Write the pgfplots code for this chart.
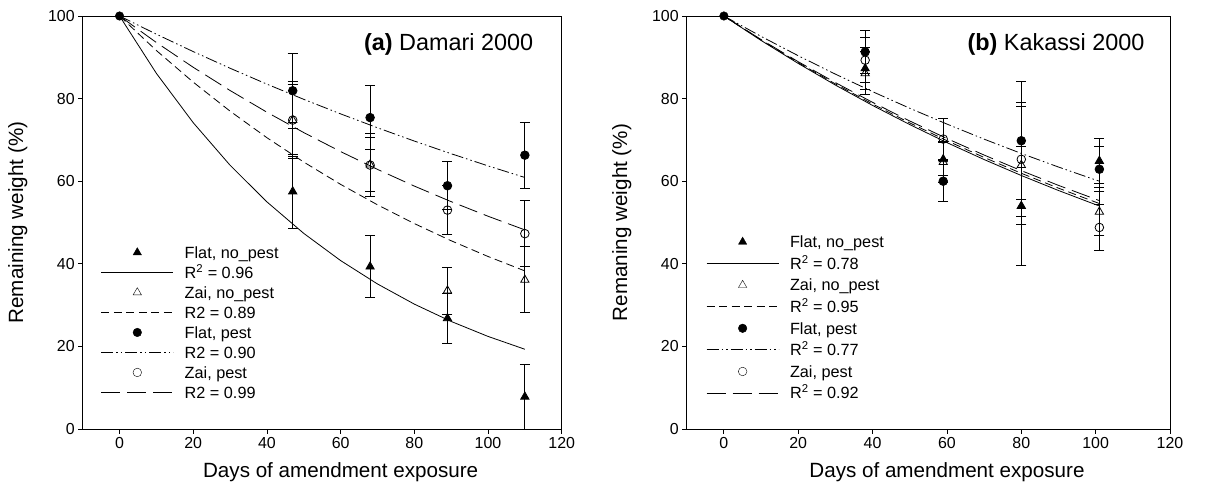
\documentclass[border=0pt]{standalone}
\usepackage{fontspec}
\setmainfont{Liberation Sans}
\usepackage{pgfplots}
\pgfplotsset{compat=1.18}

\pgfplotsset{
  panel/.style={
    scale only axis,
    height=413bp,
    xmin=-10, xmax=120, ymin=0, ymax=100,
    xtick={0,20,...,120}, ytick={0,20,...,100},
    tick align=outside, major tick length=4.5bp,
    xtick pos=bottom, ytick pos=left,
    tick style={black, line width=0.8bp},
    axis line style={black, line width=0.9bp},
    /pgf/number format/assume math mode=true,
    ticklabel style={font=\fontsize{16}{18}\selectfont},
    every axis x label/.style={at={(axis description cs:0.5385,0)}, yshift=-43bp,
      anchor=center, font=\fontsize{20.7}{24}\selectfont},
    every axis y label/.style={at={(axis description cs:0,0.5)}, xshift=-65bp,
      rotate=90, anchor=center, font=\fontsize{20.7}{24}\selectfont},
    legend image code/.code={
      \draw[mark repeat=2, mark phase=2, #1]
        plot coordinates {(0bp,0bp) (36bp,0bp) (72bp,0bp)};},
    legend style={anchor=north west, draw=none, fill=none, inner sep=0pt,
      column sep=11bp, font=\fontsize{16.3}{19}\selectfont,
      nodes={inner sep=0pt, text height=14.5bp, text depth=2.9bp}},
    legend cell align=left,
    fitline/.style={black, line width=0.8bp, no marks},
    shortdash/.style={dash pattern=on 8bp off 4.5bp},
    dashdotdot/.style={dash pattern=on 12bp off 3bp on 1.5bp off 3bp on 1.5bp off 3bp},
    longdash/.style={dash pattern=on 19bp off 7bp},
    pts/.style={black, only marks, mark options={solid, line width=0.8bp},
      error bars/y dir=both, error bars/y explicit,
      error bars/error mark=-,
      error bars/error bar style={solid, line width=1bp},
      error bars/error mark options={solid, rotate=90, mark size=5bp, line width=1bp}},
  }
}

\begin{document}
\begin{tikzpicture}
\useasboundingbox (0,0) rectangle (1211bp,490bp);

% ---------- (a) Damari 2000 ----------
\begin{axis}[
  panel,
  at={(82.7bp,61bp)}, anchor=south west,
  width=479bp,
  xlabel={Days of amendment exposure},
  ylabel={Remaining weight (\%)},
  legend style={at={(0.0376,0.449)}, row sep=2.6bp},
]
\addlegendimage{only marks, mark=triangle*, mark size=4.8bp}
\addlegendentry{Flat, no\_pest}
\addlegendimage{fitline}
\addlegendentry{R\textsuperscript{2} = 0.96}
\addlegendimage{only marks, mark=triangle, mark size=4.8bp}
\addlegendentry{Zai, no\_pest}
\addlegendimage{fitline, shortdash}
\addlegendentry{R2 = 0.89}
\addlegendimage{only marks, mark=*, mark size=4.3bp}
\addlegendentry{Flat, pest}
\addlegendimage{fitline, dashdotdot}
\addlegendentry{R2 = 0.90}
\addlegendimage{only marks, mark=o, mark size=4.3bp}
\addlegendentry{Zai, pest}
\addlegendimage{fitline, longdash}
\addlegendentry{R2 = 0.99}

% fitted curves
\addplot[fitline, forget plot] coordinates {
  (0,100) (10,86.11) (20,74.16) (30,63.86) (40,54.99) (50,47.36) (60,40.78)
  (70,35.12) (80,30.24) (90,26.04) (100,22.42) (110,19.31)};
\addplot[fitline, shortdash, forget plot] coordinates {
  (0,100) (10,91.64) (20,83.98) (30,76.96) (40,70.53) (50,64.63) (60,59.23)
  (70,54.28) (80,49.74) (90,45.58) (100,41.77) (110,38.28)};
\addplot[fitline, dashdotdot, forget plot] coordinates {
  (0,100) (10,95.59) (20,91.38) (30,87.35) (40,83.50) (50,79.82) (60,76.30)
  (70,72.94) (80,69.72) (90,66.65) (100,63.71) (110,60.90)};
\addplot[fitline, longdash, forget plot] coordinates {
  (0,100) (10,93.58) (20,87.58) (30,81.96) (40,76.70) (50,71.77) (60,67.17)
  (70,62.86) (80,58.82) (90,55.05) (100,51.52) (110,48.21)};

% measured points
\addplot[pts, mark=triangle*, mark size=4.8bp, forget plot] coordinates {
  (47,57.5) +- (0,9.0) (68,39.3) +- (0,7.5) (89,26.8) +- (0,6.1) (110,7.8) +- (0,7.8)};
\addplot[pts, mark=triangle, mark size=4.8bp, forget plot] coordinates {
  (47,74.8) +- (0,8.7) (68,64.0) +- (0,6.5) (89,33.5) +- (0,5.7) (110,36.1) +- (0,8.0)};
\addplot[pts, mark=o, mark size=4.3bp, forget plot] coordinates {
  (47,74.8) +- (0,9.3) (68,63.9) +- (0,7.6) (89,53.0) +- (0,6.0) (110,47.3) +- (0,8.0)};
\addplot[pts, mark=*, mark size=4.3bp, forget plot] coordinates {
  (47,81.9) +- (0,9.1) (68,75.4) +- (0,7.7) (89,58.9) +- (0,5.8) (110,66.3) +- (0,8.0)};
\addplot[black, only marks, mark=*, mark size=4.3bp, forget plot] coordinates {(0,100)};

\node[anchor=east, font=\fontsize{23.5}{28}\selectfont]
  at (rel axis cs:0.948,0.93) {\textbf{(a)} Damari 2000};
\end{axis}

% ---------- (b) Kakassi 2000 ----------
\begin{axis}[
  panel,
  at={(686.7bp,61bp)}, anchor=south west,
  width=483.3bp,
  xlabel={Days of amendment exposure},
  ylabel={Remaning weight (\%)},
  legend style={at={(0.040,0.4746)}, row sep=4.2bp},
]
\addlegendimage{only marks, mark=triangle*, mark size=4.8bp}
\addlegendentry{Flat, no\_pest}
\addlegendimage{fitline}
\addlegendentry{R\textsuperscript{2} = 0.78}
\addlegendimage{only marks, mark=triangle, mark size=4.8bp}
\addlegendentry{Zai, no\_pest}
\addlegendimage{fitline, shortdash}
\addlegendentry{R\textsuperscript{2} = 0.95}
\addlegendimage{only marks, mark=*, mark size=4.3bp}
\addlegendentry{Flat, pest}
\addlegendimage{fitline, dashdotdot}
\addlegendentry{R\textsuperscript{2} = 0.77}
\addlegendimage{only marks, mark=o, mark size=4.3bp}
\addlegendentry{Zai, pest}
\addlegendimage{fitline, longdash}
\addlegendentry{R\textsuperscript{2} = 0.92}

% fitted curves
\addplot[fitline, forget plot] coordinates {
  (0,100) (10,94.08) (20,88.51) (30,83.27) (40,78.34) (50,73.71) (60,69.34)
  (70,65.24) (80,61.38) (90,57.75) (100,54.33) (101,54.00)};
\addplot[fitline, shortdash, forget plot] coordinates {
  (0,100) (10,94.19) (20,88.71) (30,83.55) (40,78.69) (50,74.12) (60,69.81)
  (70,65.75) (80,61.92) (90,58.32) (100,54.93) (101,54.60)};
\addplot[fitline, dashdotdot, forget plot] coordinates {
  (0,100) (10,95.07) (20,90.38) (30,85.92) (40,81.68) (50,77.66) (60,73.83)
  (70,70.18) (80,66.72) (90,63.43) (100,60.30) (101,60.00)};
\addplot[fitline, longdash, forget plot] coordinates {
  (0,100) (10,94.30) (20,88.93) (30,83.87) (40,79.09) (50,74.58) (60,70.33)
  (70,66.33) (80,62.55) (90,58.99) (100,55.63) (101,55.30)};

% measured points
\addplot[pts, mark=triangle*, mark size=4.8bp, forget plot] coordinates {
  (38,87.3) +- (0,5.0) (59,65.3) +- (0,4.0) (80,54.0) +- (0,14.5) (101,64.9) +- (0,5.5)};
\addplot[pts, mark=triangle, mark size=4.8bp, forget plot] coordinates {
  (38,86.1) +- (0,5.2) (59,64.6) +- (0,5.0) (80,63.9) +- (0,14.3) (101,52.6) +- (0,5.8)};
\addplot[pts, mark=o, mark size=4.3bp, forget plot] coordinates {
  (38,89.3) +- (0,5.5) (59,70.2) +- (0,4.9) (80,65.3) +- (0,13.8) (101,48.8) +- (0,5.6)};
\addplot[pts, mark=*, mark size=4.3bp, forget plot] coordinates {
  (38,91.3) +- (0,5.2) (59,60.0) +- (0,5.0) (80,69.8) +- (0,14.3) (101,62.9) +- (0,5.5)};
\addplot[black, only marks, mark=*, mark size=4.3bp, forget plot] coordinates {(0,100)};

\node[anchor=east, font=\fontsize{23.5}{28}\selectfont]
  at (rel axis cs:0.9545,0.93) {\textbf{(b)} Kakassi 2000};
\end{axis}
\end{tikzpicture}
\end{document}
